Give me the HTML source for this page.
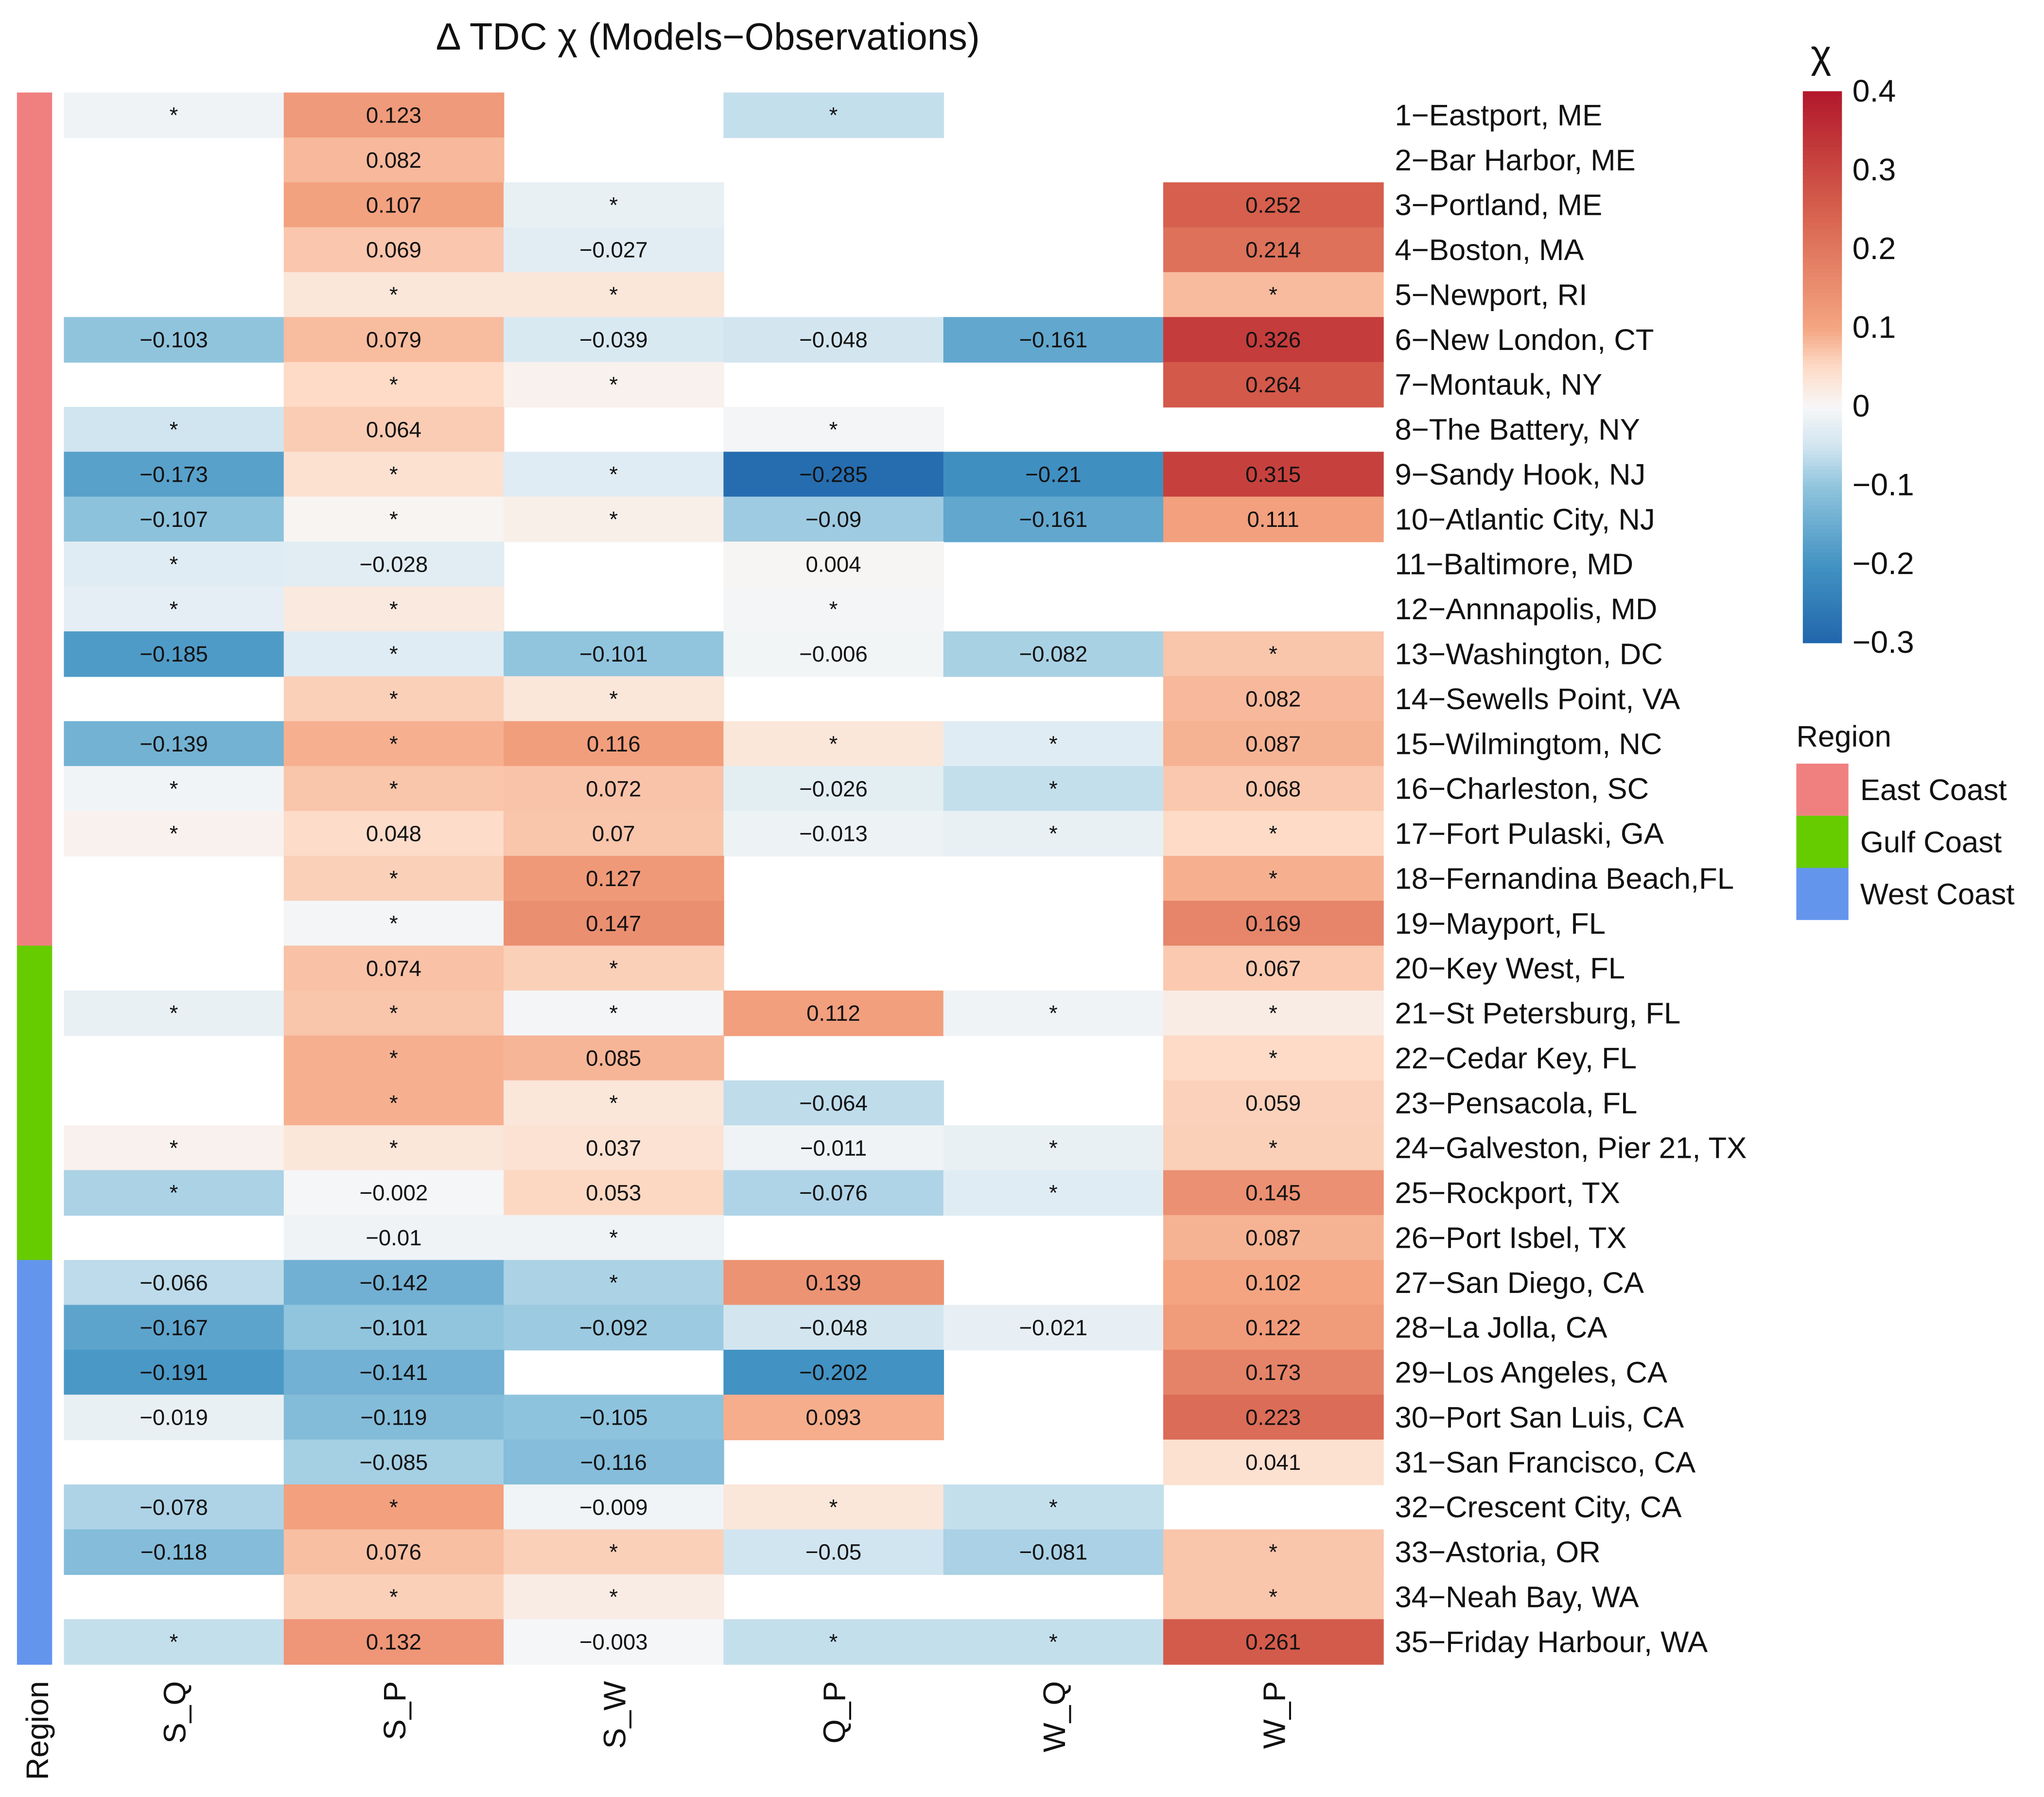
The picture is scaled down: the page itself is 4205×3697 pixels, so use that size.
<!DOCTYPE html>
<html><head><meta charset="utf-8"><style>
html,body{margin:0;padding:0;background:#fff}
svg{display:block}
text{font-family:"Liberation Sans",sans-serif;fill:#111}
</style></head><body>
<svg id="chart" xmlns="http://www.w3.org/2000/svg" width="4205" height="3697" viewBox="0 0 1568 1379" preserveAspectRatio="none">
<text x="543" y="38" font-size="29" text-anchor="middle">Δ TDC  χ (Models−Observations)</text>
<g id="cells"></g>
<g id="region"></g>
<g id="rowlabels"></g>
<g id="collabels"></g>
<g id="cbar"></g>
<g id="legend"></g>
</svg>
<script>
const stations=["1−Eastport, ME","2−Bar Harbor, ME","3−Portland, ME","4−Boston, MA","5−Newport, RI","6−New London, CT","7−Montauk, NY","8−The Battery, NY","9−Sandy Hook, NJ","10−Atlantic City, NJ","11−Baltimore, MD","12−Annnapolis, MD","13−Washington, DC","14−Sewells Point, VA","15−Wilmingtom, NC","16−Charleston, SC","17−Fort Pulaski, GA","18−Fernandina Beach,FL","19−Mayport, FL","20−Key West, FL","21−St Petersburg, FL","22−Cedar Key, FL","23−Pensacola, FL","24−Galveston, Pier 21, TX","25−Rockport, TX","26−Port Isbel, TX","27−San Diego, CA","28−La Jolla, CA","29−Los Angeles, CA","30−Port San Luis, CA","31−San Francisco, CA","32−Crescent City, CA","33−Astoria, OR","34−Neah Bay, WA","35−Friday Harbour, WA"];
const columns=["S_Q","S_P","S_W","Q_P","W_Q","W_P"];
const regions=["East Coast","Gulf Coast","West Coast"];
const regionColors=["#f08080","#66cc00","#6495ed"];
const regionCounts=[19,7,9];
const values=[
[-0.01,0.123,null,-0.06,null,null],
[null,0.082,null,null,null,null],
[null,0.107,-0.02,null,null,0.252],
[null,0.069,-0.027,null,null,0.214],
[null,0.03,0.03,null,null,0.08],
[-0.103,0.079,-0.039,-0.048,-0.161,0.326],
[null,0.05,0.01,null,null,0.264],
[-0.05,0.064,null,-0.005,null,null],
[-0.173,0.04,-0.03,-0.285,-0.21,0.315],
[-0.107,0.005,0.015,-0.09,-0.161,0.111],
[-0.03,-0.028,null,0.004,null,null],
[-0.025,0.025,null,-0.005,null,null],
[-0.185,-0.03,-0.101,-0.006,-0.082,0.07],
[null,0.06,0.03,null,null,0.082],
[-0.139,0.09,0.116,0.03,-0.03,0.087],
[-0.008,0.07,0.072,-0.026,-0.06,0.068],
[0.01,0.048,0.07,-0.013,-0.02,0.05],
[null,0.06,0.127,null,null,0.09],
[null,-0.005,0.147,null,null,0.169],
[null,0.074,0.06,null,null,0.067],
[-0.02,0.07,-0.005,0.112,-0.01,0.02],
[null,0.09,0.085,null,null,0.05],
[null,0.09,0.03,-0.064,null,0.059],
[0.01,0.03,0.037,-0.011,-0.02,0.06],
[-0.08,-0.002,0.053,-0.076,-0.03,0.145],
[null,-0.01,-0.01,null,null,0.087],
[-0.066,-0.142,-0.08,0.139,null,0.102],
[-0.167,-0.101,-0.092,-0.048,-0.021,0.122],
[-0.191,-0.141,null,-0.202,null,0.173],
[-0.019,-0.119,-0.105,0.093,null,0.223],
[null,-0.085,-0.116,null,null,0.041],
[-0.078,0.11,-0.009,0.03,-0.06,null],
[-0.118,0.076,0.06,-0.05,-0.081,0.07],
[null,0.06,0.02,null,null,0.07],
[-0.06,0.132,-0.003,-0.06,-0.06,0.261]];
const labels=[
["*","0.123","","*","",""],
["","0.082","","","",""],
["","0.107","*","","","0.252"],
["","0.069","−0.027","","","0.214"],
["","*","*","","","*"],
["−0.103","0.079","−0.039","−0.048","−0.161","0.326"],
["","*","*","","","0.264"],
["*","0.064","","*","",""],
["−0.173","*","*","−0.285","−0.21","0.315"],
["−0.107","*","*","−0.09","−0.161","0.111"],
["*","−0.028","","0.004","",""],
["*","*","","*","",""],
["−0.185","*","−0.101","−0.006","−0.082","*"],
["","*","*","","","0.082"],
["−0.139","*","0.116","*","*","0.087"],
["*","*","0.072","−0.026","*","0.068"],
["*","0.048","0.07","−0.013","*","*"],
["","*","0.127","","","*"],
["","*","0.147","","","0.169"],
["","0.074","*","","","0.067"],
["*","*","*","0.112","*","*"],
["","*","0.085","","","*"],
["","*","*","−0.064","","0.059"],
["*","*","0.037","−0.011","*","*"],
["*","−0.002","0.053","−0.076","*","0.145"],
["","−0.01","*","","","0.087"],
["−0.066","−0.142","*","0.139","","0.102"],
["−0.167","−0.101","−0.092","−0.048","−0.021","0.122"],
["−0.191","−0.141","","−0.202","","0.173"],
["−0.019","−0.119","−0.105","0.093","","0.223"],
["","−0.085","−0.116","","","0.041"],
["−0.078","*","−0.009","*","*",""],
["−0.118","0.076","*","−0.05","−0.081","*"],
["","*","*","","","*"],
["*","0.132","−0.003","*","*","0.261"]];
const cbTicks=[0.4,0.3,0.2,0.1,0,-0.1,-0.2,-0.3];

const NS="http://www.w3.org/2000/svg";
const X0=49,X1=1061,Y0=71,Y1=1277;
const cw=(X1-X0)/columns.length, rh=(Y1-Y0)/stations.length;
const xPos=i=>X0+i*cw, yPos=j=>Y0+j*rh;
const stops=["#053061","#2166ac","#4393c3","#92c5de","#d1e5f0","#f7f7f7","#fddbc7","#f4a582","#d6604d","#b2182b","#67001f"];
function hex(h){return [1,3,5].map(i=>parseInt(h.substr(i,2),16));}
function tOf(v){
  if(v>=0.1) return 0.7+(v-0.1)*(0.2/0.3);
  if(v<=-0.1) return 0.3+(v+0.1)*1.0;
  return 0.5+2*v;
}
function color(v){let t=Math.max(0,Math.min(1,tOf(v)))*10;let i=Math.min(9,Math.floor(t)),f=t-i;const a=hex(stops[i]),b=hex(stops[i+1]);return "rgb("+a.map((c,k)=>Math.round(c+(b[k]-c)*f)).join(",")+")";}
function mk(tag,attrs,parent){const e=document.createElementNS(NS,tag);for(const k in attrs)e.setAttribute(k,attrs[k]);parent.appendChild(e);return e;}
const gC=document.getElementById("cells");
values.forEach((row,j)=>row.forEach((v,i)=>{
  if(v===null)return;
  const r=mk("rect",{x:xPos(i),y:yPos(j),width:cw+0.5,height:rh+0.5,fill:color(v)},gC);
  
  
  const t=mk("text",{x:xPos(i)+cw/2,y:yPos(j)+rh/2+6,"font-size":17,"text-anchor":"middle"},gC);
  t.textContent=labels[j][i];
  
  
}));
const gR=document.getElementById("region");
let start=0;
regionCounts.forEach((n,k)=>{
  const r=mk("rect",{x:13,y:yPos(start),width:27,height:n*rh+0.5,fill:regionColors[k]},gR);
  
  
  start+=n;
});
const gL=document.getElementById("rowlabels");
stations.forEach((s,j)=>{
  const t=mk("text",{x:1070,y:yPos(j)+rh/2+8,"font-size":23},gL);
  t.textContent=s;
  
  
});
const gX=document.getElementById("collabels");
columns.forEach((c,i)=>{
  const x=xPos(i)+cw/2+9;
  const t=mk("text",{x:x,y:1290,"font-size":24,"text-anchor":"end",transform:"rotate(-90 "+x+" 1290)"},gX);
  t.textContent=c;
  
  
});
const rt=mk("text",{x:37,y:1290,"font-size":24,"text-anchor":"end",transform:"rotate(-90 37 1290)"},gX);
rt.textContent="Region";


// colorbar
const gB=document.getElementById("cbar");
const cbTop=70,cbBot=493,cbMin=-0.3,cbMax=0.4;
const cbY=v=>cbBot-(v-cbMin)/(cbMax-cbMin)*(cbBot-cbTop);
for(let k=0;k<140;k++){
  const v0=cbMin+k*(cbMax-cbMin)/140, v1=cbMin+(k+1)*(cbMax-cbMin)/140;
  mk("rect",{x:1383,y:cbY(v1),width:30,height:cbY(v0)-cbY(v1)+0.6,fill:color((v0+v1)/2)},gB);
}
cbTicks.forEach(v=>{
  const t=mk("text",{x:1421,y:cbY(v)+8,"font-size":24},gB);
  t.textContent=v===0?"0":(v<0?"−"+Math.abs(v):String(v));
  
  
});
const ct=mk("text",{x:1397,y:52,"font-size":30,"text-anchor":"middle"},gB);
ct.textContent="χ";


// legend
const gG=document.getElementById("legend");
const lt=mk("text",{x:1378,y:573,"font-size":23},gG);
lt.textContent="Region";


regions.forEach((r,k)=>{
  const y=586+k*40;
  const p=mk("rect",{x:1378,y:y,width:40,height:40,fill:regionColors[k]},gG);
  
  
  const t=mk("text",{x:1427,y:y+28,"font-size":23},gG);
  t.textContent=r;
  
  
});
</script>
</body></html>
